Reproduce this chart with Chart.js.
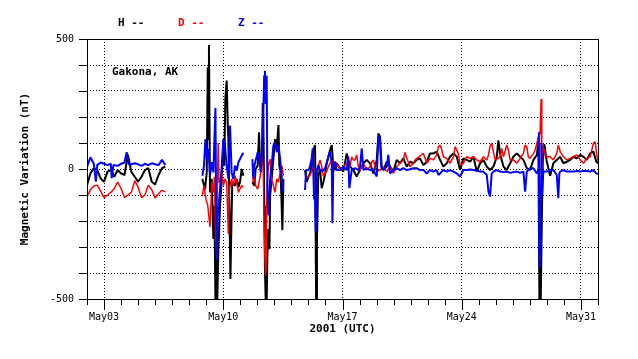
<!DOCTYPE html>
<html><head><meta charset="utf-8">
<script src="https://cdn.jsdelivr.net/npm/chart.js@4/dist/chart.umd.min.js"></script>
<style>html,body{margin:0;padding:0;background:#fff;}canvas{display:block;}</style>
</head><body>
<canvas id="c" width="638" height="359"></canvas>
<script>
const seriesNames = ['H', 'D', 'Z'];
const seriesColors = ['#000000', '#ff0000', '#0000ff'];
const seriesWidths = [2, 1.5, 2];
const stationName = 'Gakona, AK';
const yTitle = 'Magnetic Variation (nT)';
const xTitle = '2001 (UTC)';
const yTickValues = [500, 0, -500];
const xTickDays = [1, 8, 15, 22, 29];           // days since May 2, 2001 00:00 UTC
const xTickNames = ['May03', 'May10', 'May17', 'May24', 'May31'];

// [day since May 2 00:00 UTC, nT]; null = data gap
const hSeries = [
[0,-62],[0.2,-17],[0.4,3],[0.6,-4],[0.8,-36],[1.0,-49],[1.2,-10],[1.4,-4],[1.6,-30],[1.8,-4],[2.0,-17],[2.2,-23],[2.4,55],[2.6,-10],[2.8,-30],[3.0,-49],[3.2,-30],[3.4,-4],[3.6,3],[3.8,-49],[4.0,-59],[4.2,-23],[4.4,3],[4.6,9],
[5.5,null],
[6.77,-38],[6.93,-77],[7.03,-13],[7.09,391],[7.13,115],[7.16,477],[7.22,-90],[7.32,-38],[7.42,-269],[7.48,-141],[7.54,-500],[7.59,-333],[7.65,-500],[7.71,-320],[7.81,-141],[7.91,-38],[8.01,115],[8.06,13],[8.12,269],[8.20,340],[8.26,179],[8.30,115],[8.36,-141],[8.42,-423],[8.48,-205],[8.53,-51],[8.69,-64],[8.79,-38],[8.89,-70],[8.98,-51],[9.08,0],[9.18,-26],
[9.45,null],
[9.71,-51],[9.83,-64],[9.90,0],[10.02,13],[10.10,141],[10.16,13],[10.26,26],[10.32,254],[10.35,200],[10.41,-141],[10.45,-397],[10.49,-500],[10.55,-500],[10.59,-333],[10.65,-231],[10.71,-308],[10.75,-103],[10.84,-38],[10.94,38],[11.04,115],[11.14,77],[11.24,169],[11.29,13],[11.37,-13],[11.47,-235],[11.53,-38],
[12.2,null],
[12.80,-4],[12.90,-49],[13.00,-30],[13.10,-17],[13.20,22],[13.29,73],[13.39,92],[13.45,-500],[13.50,-280],[13.58,-17],[13.68,-4],[13.78,-74],[13.88,-49],[13.97,-23],[14.07,22],[14.17,47],[14.27,73],[14.37,92],[14.46,9],[14.56,-4],[14.66,22],[14.86,3],[15.05,-10],[15.25,60],[15.44,9],[15.64,-4],[15.83,-29],[16.03,-4],[16.23,22],[16.42,35],[16.62,22],[16.81,-17],[17.01,35],[17.11,137],[17.20,124],[17.30,9],[17.40,-4],[17.60,28],[17.79,9],[17.99,-10],[18.18,35],[18.38,22],[18.57,41],[18.77,9],[18.97,28],[19.16,22],[19.36,35],[19.55,41],[19.75,15],[19.95,28],[20.14,60],[20.34,60],[20.53,67],[20.73,35],[20.92,9],[21.12,22],[21.31,47],[21.51,60],[21.71,47],[21.90,-4],[22.10,41],[22.29,35],[22.49,28],[22.69,47],[22.88,-10],[23.08,22],[23.27,35],[23.47,9],[23.66,-4],[23.86,9],[24.06,47],[24.15,110],[24.25,60],[24.45,9],[24.64,-4],[24.84,22],[25.03,47],[25.23,60],[25.43,47],[25.62,35],[25.82,3],[26.01,-4],[26.21,35],[26.41,54],[26.50,103],[26.56,-500],[26.60,-420],[26.64,-500],[26.70,-200],[26.76,30],[26.85,96],[26.99,30],[27.19,-26],[27.38,22],[27.58,35],[27.78,47],[27.97,22],[28.17,28],[28.37,35],[28.56,47],[28.76,41],[28.95,54],[29.15,47],[29.34,35],[29.54,60],[29.73,67],[29.90,28],[30.00,22]
];

const dSeries = [
[0,-106],[0.2,-80],[0.4,-65],[0.6,-62],[0.8,-85],[1.0,-110],[1.2,-100],[1.4,-90],[1.6,-75],[1.8,-50],[2.0,-75],[2.2,-110],[2.4,-100],[2.6,-90],[2.8,-45],[3.0,-70],[3.2,-110],[3.4,-100],[3.6,-62],[3.8,-80],[4.0,-112],[4.2,-95],[4.4,-82],[4.6,-88],
[5.5,null],
[6.77,-103],[6.87,-64],[6.98,-115],[7.09,-141],[7.22,-223],[7.27,-150],[7.32,-51],[7.42,-90],[7.48,-30],[7.55,-279],[7.62,-200],[7.70,100],[7.75,-50],[7.81,-51],[7.91,-13],[8.01,-64],[8.10,-38],[8.20,-51],[8.30,-250],[8.36,-77],[8.49,-38],[8.59,-64],[8.69,-26],[8.79,-51],[8.89,-90],[8.98,-77],[9.08,-64],[9.18,-70],
[9.45,null],
[9.71,-51],[9.83,-26],[9.90,-64],[10.02,-77],[10.10,-51],[10.20,-13],[10.29,51],[10.35,-13],[10.41,-269],[10.45,-346],[10.49,-410],[10.55,-141],[10.59,-51],[10.65,13],[10.75,38],[10.84,-38],[10.94,-64],[11.04,-90],[11.14,-38],[11.24,-51],[11.34,-13],[11.44,13],[11.53,-26],
[12.2,null],
[12.86,-36],[13.00,-29],[13.10,-23],[13.19,-10],[13.29,3],[13.39,-4],[13.49,-10],[13.58,9],[13.68,35],[13.78,9],[13.88,-29],[13.97,-17],[14.07,-10],[14.17,9],[14.27,22],[14.37,35],[14.46,9],[14.56,28],[14.66,22],[14.76,9],[14.86,-4],[14.95,-4],[15.05,9],[15.15,15],[15.25,22],[15.44,9],[15.54,47],[15.64,35],[15.74,35],[15.83,54],[15.93,9],[16.03,-4],[16.23,22],[16.32,9],[16.42,-4],[16.62,9],[16.72,28],[16.81,35],[16.91,9],[17.01,-10],[17.20,-4],[17.40,9],[17.60,-10],[17.79,9],[17.99,-17],[18.18,9],[18.38,22],[18.57,35],[18.67,64],[18.77,41],[18.97,9],[19.16,22],[19.26,35],[19.36,41],[19.55,50],[19.75,60],[19.95,22],[20.14,41],[20.34,35],[20.53,54],[20.63,86],[20.73,92],[20.83,73],[20.92,47],[21.12,41],[21.31,22],[21.51,47],[21.61,86],[21.71,73],[21.80,60],[21.90,15],[22.10,22],[22.29,47],[22.49,41],[22.69,47],[22.88,35],[23.08,28],[23.27,47],[23.47,35],[23.57,54],[23.66,86],[23.76,99],[23.86,67],[23.96,35],[24.15,41],[24.25,47],[24.35,79],[24.45,47],[24.54,67],[24.64,92],[24.74,73],[24.84,35],[25.03,35],[25.23,22],[25.43,41],[25.62,60],[25.72,92],[25.82,86],[25.91,47],[26.01,41],[26.21,60],[26.31,73],[26.41,99],[26.50,124],[26.60,140],[26.66,269],[26.70,-42],[26.76,86],[26.99,47],[27.19,47],[27.38,35],[27.58,60],[27.67,92],[27.78,67],[27.97,47],[28.17,35],[28.37,41],[28.56,47],[28.76,54],[28.95,35],[29.15,22],[29.34,41],[29.54,47],[29.73,99],[29.83,105],[29.93,54],[30.00,28]
];

const zSeries = [
[0,8],[0.2,45],[0.4,20],[0.52,-49],[0.6,15],[0.8,25],[1.0,20],[1.2,15],[1.4,20],[1.45,-35],[1.55,15],[1.8,12],[2.0,20],[2.2,25],[2.33,65],[2.45,18],[2.6,18],[2.8,22],[3.0,18],[3.2,12],[3.4,20],[3.6,15],[3.8,22],[4.0,18],[4.2,15],[4.4,35],[4.6,15],
[5.5,null],
[6.77,-26],[6.87,13],[6.95,115],[7.03,38],[7.13,77],[7.22,-26],[7.32,26],[7.42,-13],[7.54,235],[7.58,-140],[7.62,-350],[7.68,-180],[7.81,-77],[7.91,13],[8.01,115],[8.10,90],[8.20,13],[8.30,-38],[8.40,167],[8.49,-13],[8.59,-38],[8.69,13],[8.79,-6],[8.89,26],[8.98,38],[9.08,51],[9.18,62],
[9.45,null],
[9.71,38],[9.76,-38],[9.83,13],[9.92,38],[10.02,64],[10.10,51],[10.20,-13],[10.32,115],[10.40,359],[10.45,378],[10.49,250],[10.55,359],[10.59,-77],[10.65,-179],[10.75,-38],[10.84,13],[10.94,90],[11.04,103],[11.14,64],[11.24,90],[11.34,38],[11.44,-38],[11.53,-90],
[12.2,null],
[12.80,-81],[12.86,-4],[13.00,-4],[13.09,9],[13.19,41],[13.25,79],[13.33,-113],[13.39,-120],[13.43,-241],[13.49,-4],[13.58,15],[13.68,-4],[13.78,-10],[13.88,-4],[13.97,3],[14.07,22],[14.17,47],[14.27,67],[14.37,22],[14.41,-209],[14.46,9],[14.56,28],[14.66,-4],[14.86,-4],[15.05,9],[15.25,-4],[15.34,47],[15.40,-74],[15.54,-4],[15.74,3],[15.93,-4],[16.03,9],[16.13,79],[16.23,-4],[16.42,3],[16.62,-4],[16.81,-4],[17.01,-29],[17.11,131],[17.20,112],[17.27,9],[17.40,-4],[17.60,9],[17.69,54],[17.79,-17],[17.99,-4],[18.18,3],[18.38,-4],[18.57,3],[18.77,-4],[18.97,-1],[19.16,3],[19.36,3],[19.55,-4],[19.75,-4],[19.95,-17],[20.14,-4],[20.34,-10],[20.53,-4],[20.63,-23],[20.73,-17],[20.92,-4],[21.12,-10],[21.31,-4],[21.51,-10],[21.71,-17],[21.90,-29],[22.10,-4],[22.29,-4],[22.49,-2],[22.69,-4],[22.88,-6],[23.08,-10],[23.27,-10],[23.47,-23],[23.57,-87],[23.66,-106],[23.76,-17],[23.86,-10],[24.06,-4],[24.25,-10],[24.45,-12],[24.64,-10],[24.84,-15],[25.03,-12],[25.23,-10],[25.43,-15],[25.62,-10],[25.72,-87],[25.82,-10],[26.01,3],[26.21,3],[26.41,-17],[26.50,-5],[26.53,141],[26.56,-380],[26.60,-150],[26.63,-330],[26.68,100],[26.72,-100],[26.79,-10],[27.00,-10],[27.19,-4],[27.38,-4],[27.58,-23],[27.67,-112],[27.73,-17],[27.78,-10],[27.97,-4],[28.17,-10],[28.37,-10],[28.56,-10],[28.76,-8],[28.95,-10],[29.15,-8],[29.34,-8],[29.54,-10],[29.73,-4],[29.90,-17],[30.00,-20]
];

const allSeries = [hSeries, dSeries, zSeries];
const FONT = "'DejaVu Sans Mono', 'Liberation Mono', monospace";

const decorPlugin = {
  id: 'decor',
  afterDraw(chart) {
    const ctx = chart.ctx;
    const a = chart.chartArea;
    const xs = chart.scales.x, ys = chart.scales.y;
    ctx.save();
    ctx.strokeStyle = '#000';
    ctx.lineWidth = 1;
    ctx.setLineDash([]);
    ctx.strokeRect(Math.round(a.left) + 0.5, Math.round(a.top) + 0.5, Math.round(a.right - a.left), Math.round(a.bottom - a.top));
    ctx.beginPath();
    ys.ticks.forEach(t => {
      const y = Math.round(ys.getPixelForValue(t.value)) + 0.5;
      ctx.moveTo(a.left - 8, y); ctx.lineTo(a.left, y);
    });
    xs.ticks.forEach(t => {
      const x = Math.round(xs.getPixelForValue(t.value)) + 0.5;
      const len = xTickDays.includes(t.value) ? 11 : 6;
      ctx.moveTo(x, a.bottom); ctx.lineTo(x, a.bottom + len);
    });
    ctx.stroke();
    ctx.font = 'bold 11px ' + FONT;
    ctx.textBaseline = 'middle';
    ctx.textAlign = 'left';
    chart.data.datasets.forEach((ds, i) => {
      ctx.fillStyle = ds.borderColor;
      ctx.fillText(ds.label + ' --', 118 + i * 60, 23);
    });
    ctx.fillStyle = '#000';
    ctx.fillText(stationName, 112, 72);
    ctx.textAlign = 'center';
    ctx.fillText(xTitle, (a.left + a.right) / 2, 329);
    ctx.translate(25, (a.top + a.bottom) / 2);
    ctx.rotate(-Math.PI / 2);
    ctx.fillText(yTitle, 0, 0);
    ctx.restore();
  }
};

new Chart(document.getElementById('c'), {
  type: 'line',
  data: {
    datasets: seriesNames.map((name, i) => ({
      label: name,
      data: allSeries[i].map(p => ({ x: p[0], y: p[1] })),
      borderColor: seriesColors[i],
      backgroundColor: seriesColors[i],
      borderWidth: seriesWidths[i],
      pointRadius: 0,
      tension: 0,
      spanGaps: false,
      borderJoinStyle: 'bevel',
      order: 3 - i
    }))
  },
  options: {
    responsive: false,
    animation: false,
    devicePixelRatio: 1,
    layout: { padding: { left: 0, right: 40, top: 39, bottom: 0 } },
    plugins: { legend: { display: false }, tooltip: { enabled: false } },
    scales: {
      x: {
        type: 'linear', min: 0, max: 30,
        afterFit(s) { s.height = 60; },
        ticks: {
          stepSize: 1, autoSkip: false, maxRotation: 0, minRotation: 0, padding: 12,
          color: '#000', font: { family: FONT, size: 10 },
          callback(v) { const k = xTickDays.indexOf(v); return k >= 0 ? xTickNames[k] : ''; }
        },
        grid: {
          drawTicks: false, lineWidth: 1,
          color(c) { return (c.tick && xTickDays.includes(c.tick.value)) ? '#000' : 'rgba(0,0,0,0)'; }
        },
        border: { display: false, dash: [1, 2] }
      },
      y: {
        min: -500, max: 500,
        afterFit(s) { s.width = 87; },
        ticks: {
          stepSize: 100, autoSkip: false, padding: 13,
          color: '#000', font: { family: FONT, size: 10 },
          callback(v) { return yTickValues.includes(v) ? String(v) : ''; }
        },
        grid: {
          drawTicks: false, lineWidth: 1,
          color(c) { const v = c.tick && c.tick.value; return (v === 500 || v === -500) ? 'rgba(0,0,0,0)' : '#000'; }
        },
        border: { display: false, dash: [1, 2] }
      }
    }
  },
  plugins: [decorPlugin]
});
</script>
</body></html>
